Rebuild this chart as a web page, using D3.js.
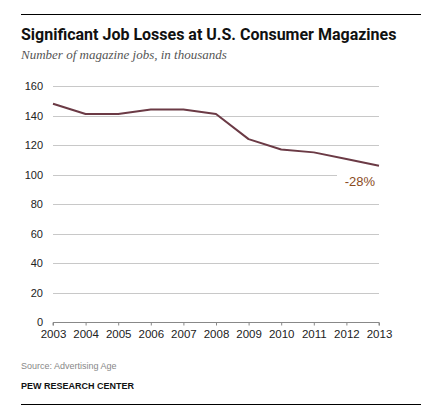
<!DOCTYPE html>
<html>
<head>
<meta charset="utf-8">
<script src="https://cdn.jsdelivr.net/npm/d3@7"></script>
<style>
  body { margin: 0; background: #fff; }
</style>
</head>
<body>
<svg id="chart"></svg>
<script>
const years = [2003, 2004, 2005, 2006, 2007, 2008, 2009, 2010, 2011, 2012, 2013];
const jobs = [148, 141, 141, 144, 144, 141, 124, 117, 115, 110.5, 106];
const yTicks = [0, 20, 40, 60, 80, 100, 120, 140, 160];
const changeLabel = "-28%";

const width = 445, height = 418;
const margin = { top: 86, right: 66, bottom: 96, left: 53 };

const svg = d3.select("#chart").attr("width", width).attr("height", height);

svg.append("line")
  .attr("x1", 21).attr("x2", 421).attr("y1", 14.5).attr("y2", 14.5)
  .attr("stroke", "#000").attr("stroke-width", 1);

svg.append("text")
  .attr("x", 21).attr("y", 40)
  .style("font-family", "Roboto, 'Liberation Sans', sans-serif")
  .style("font-weight", "bold")
  .style("font-size", "16px")
  .attr("fill", "#111")
  .text("Significant Job Losses at U.S. Consumer Magazines");

svg.append("text")
  .attr("x", 21).attr("y", 59)
  .style("font-family", "'Liberation Serif', serif")
  .style("font-style", "italic")
  .style("font-size", "13px")
  .attr("fill", "#555")
  .text("Number of magazine jobs, in thousands");

const x = d3.scaleLinear()
  .domain(d3.extent(years))
  .range([margin.left, width - margin.right]);

const y = d3.scaleLinear()
  .domain([0, 160])
  .range([height - margin.bottom, margin.top]);

// gridlines
svg.append("g")
  .selectAll("line")
  .data(yTicks.filter(d => d > 0))
  .join("line")
  .attr("x1", x(2003))
  .attr("x2", d => d === 100 ? 337 : x(2013))
  .attr("y1", d => Math.round(y(d)) + 0.5)
  .attr("y2", d => Math.round(y(d)) + 0.5)
  .attr("stroke", "#c8c8c8")
  .attr("stroke-width", 1);

// y labels
svg.append("g")
  .selectAll("text")
  .data(yTicks)
  .join("text")
  .attr("x", 43)
  .attr("y", d => y(d) + 4)
  .attr("text-anchor", "end")
  .style("font-family", "'Liberation Sans', Arial, sans-serif")
  .style("font-size", "11px")
  .attr("fill", "#222")
  .text(d => d);

// x axis
const xAxis = svg.append("g")
  .attr("transform", `translate(0, ${Math.round(y(0)) + 0.5})`)
  .call(d3.axisBottom(x).tickValues(years).tickFormat(d3.format("d")).tickSize(3).tickPadding(4));
xAxis.select(".domain").attr("stroke", "#888").attr("d", `M${x(2003)},3V0H${x(2013)}V3`);
xAxis.selectAll(".tick line").attr("stroke", "#888");
xAxis.selectAll("text")
  .style("font-family", "'Liberation Sans', Arial, sans-serif")
  .style("font-size", "11.5px")
  .attr("fill", "#222");

// line
const line = d3.line()
  .x((d, i) => x(years[i]))
  .y(d => y(d));

svg.append("path")
  .datum(jobs)
  .attr("fill", "none")
  .attr("stroke", "#6b3a45")
  .attr("stroke-width", 2)
  .attr("stroke-linejoin", "round")
  .attr("d", line);

svg.append("text")
  .attr("x", x(2013) - 4)
  .attr("y", y(100) + 11)
  .attr("text-anchor", "end")
  .style("font-family", "'Liberation Sans', Arial, sans-serif")
  .style("font-size", "13px")
  .attr("fill", "#8a4b1c")
  .text(changeLabel);

svg.append("text")
  .attr("x", 21).attr("y", 369)
  .style("font-family", "'Liberation Sans', Arial, sans-serif")
  .style("font-size", "9px")
  .attr("fill", "#888")
  .text("Source: Advertising Age");

svg.append("text")
  .attr("x", 21).attr("y", 389)
  .style("font-family", "'Liberation Sans', Arial, sans-serif")
  .style("font-size", "9px")
  .style("font-weight", "bold")
  .attr("fill", "#111")
  .text("PEW RESEARCH CENTER");

svg.append("line")
  .attr("x1", 21).attr("x2", 421).attr("y1", 404.5).attr("y2", 404.5)
  .attr("stroke", "#000").attr("stroke-width", 1);
</script>
</body>
</html>
